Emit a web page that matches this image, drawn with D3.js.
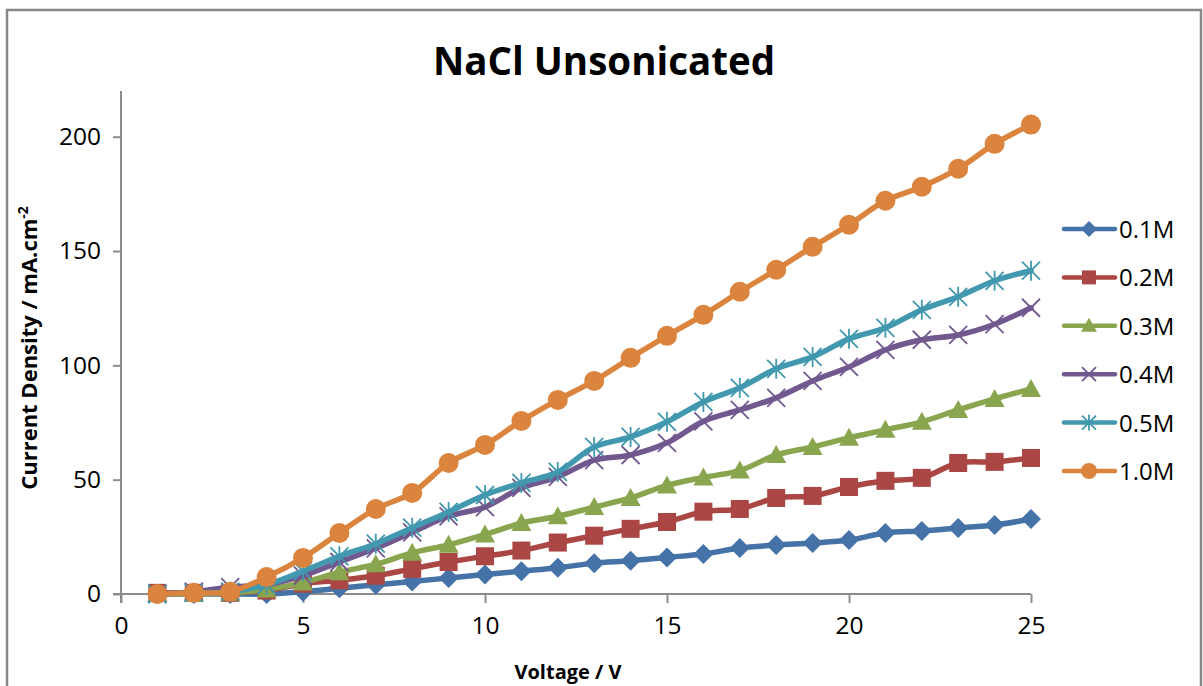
<!DOCTYPE html>
<html>
<head>
<meta charset="utf-8">
<script src="https://cdn.jsdelivr.net/npm/d3@7"></script>
<style>
  body { margin: 0; background: #fff; }
  text { font-family: "Open Sans", sans-serif; fill: #000; }
</style>
</head>
<body>
<div id="chart"></div>
<script>
// voltage (V)
const voltages = d3.range(1, 26);

// current density (mA.cm-2)
const s01 = [0, 0, 0, 0, 1, 2.5, 4, 5.5, 7, 8.5, 10, 11.5, 13.5, 14.5, 16, 17.5, 20.1, 21.4, 22.3, 23.6, 26.7, 27.6, 28.9, 30.2, 32.8];
const s02 = [0.5, 0.5, 0.5, 1.5, 4.5, 6, 8, 11, 14, 16.5, 19, 22.5, 25.5, 28.5, 31.5, 36, 37.2, 42, 42.9, 46.8, 49.5, 50.8, 57.3, 57.8, 59.5];
const s03 = [0, 0, 0.5, 2, 5, 9.5, 13, 18, 21.5, 26, 31, 34, 38, 42, 47.5, 51, 54, 60.8, 64.3, 68.3, 71.8, 75.3, 80.5, 85.3, 89.7];
const s04 = [0, 1, 3, 4, 8, 14, 20, 27, 34, 38, 46.4, 51.2, 58.6, 60.8, 66.1, 75.5, 80.5, 85.8, 93.2, 99.3, 106.8, 111.2, 113.3, 118, 125.2];
const s05 = [0, 0.5, 1, 4, 10, 16.5, 22, 29, 35.9, 43.3, 48.6, 53.4, 64.3, 68.7, 75.3, 84, 90.2, 98.5, 103.7, 111.6, 116.4, 124.3, 130, 137, 141.4];
const s10 = [0, 0.5, 1, 7.4, 15.8, 26.7, 37.2, 44.2, 57.3, 65.2, 75.7, 84.9, 93.2, 103.3, 112.9, 122.1, 132.2, 141.8, 151.9, 161.5, 172, 178.1, 186, 196.9, 205.3];

const seriesNames = ["0.1M", "0.2M", "0.3M", "0.4M", "0.5M", "1.0M"];
const seriesValues = [s01, s02, s03, s04, s05, s10];
const seriesColors = ["#4572A7", "#AA4643", "#89A54E", "#71588F", "#4198AF", "#DB843D"];
const seriesMarkers = ["diamond", "square", "triangle", "x", "star", "circle"];

const xTicks = [0, 5, 10, 15, 20, 25];
const yTicks = [0, 50, 100, 150, 200];

const totalWidth = 1203, totalHeight = 686;
const margin = { top: 91, right: 172, bottom: 92, left: 121 };
const width = totalWidth - margin.left - margin.right;
const height = totalHeight - margin.top - margin.bottom;

const svg = d3.select("#chart").append("svg")
    .attr("width", totalWidth)
    .attr("height", totalHeight);

// chart area border (open at the bottom, like the crop)
svg.append("path")
    .attr("d", `M7,${totalHeight + 5}V10H1201V${totalHeight + 5}`)
    .attr("fill", "none")
    .attr("stroke", "#888")
    .attr("stroke-width", 2.5);

const g = svg.append("g")
    .attr("transform", `translate(${margin.left},${margin.top})`);

const x = d3.scaleLinear().domain([0, 25]).range([0, width]);
const y = d3.scaleLinear().domain([0, 220]).range([height, 0]);

// axes
const xAxis = d3.axisBottom(x).tickValues(xTicks).tickSize(9).tickPadding(14);
const yAxis = d3.axisLeft(y).tickValues(yTicks).tickSize(8).tickPadding(12);

const gx = g.append("g")
    .attr("transform", `translate(0,${height})`)
    .call(xAxis);
const gy = g.append("g").call(yAxis);

[gx, gy].forEach(a => {
  a.select(".domain").attr("stroke", "#8c8c8c").attr("stroke-width", 2);
  a.selectAll(".tick line").attr("stroke", "#8c8c8c").attr("stroke-width", 2);
  a.selectAll(".tick text")
    .style("font-family", "'Open Sans', sans-serif")
    .style("font-size", "24.5px")
    .attr("fill", "#000");
});
gx.select(".domain").attr("d", `M-8,0H${width}`);
gy.select(".domain").attr("d", `M0,${height + 9}V0`);

// title
svg.append("text")
    .attr("x", 604)
    .attr("y", 75)
    .attr("text-anchor", "middle")
    .style("font-size", "38.5px")
    .style("font-weight", "bold")
    .text("NaCl Unsonicated");

// x label
svg.append("text")
    .attr("x", 568)
    .attr("y", 679)
    .attr("text-anchor", "middle")
    .style("font-size", "20px")
    .style("font-weight", "bold")
    .text("Voltage / V");

// y label
const yl = svg.append("text")
    .attr("transform", "translate(37,348) rotate(-90)")
    .attr("text-anchor", "middle")
    .style("font-size", "22px")
    .style("font-weight", "bold");
yl.append("tspan").text("Current Density / mA.cm");
yl.append("tspan").attr("dy", -9).style("font-size", "14px").text("-2");

// marker drawing
function drawMarker(sel, type, color, s) {
  const h = s / 2;
  if (type === "diamond") {
    sel.append("path").attr("d", `M0,${-h}L${h},0L0,${h}L${-h},0Z`).attr("fill", color);
  } else if (type === "square") {
    sel.append("rect").attr("x", -h + 1).attr("y", -h + 1).attr("width", s - 2).attr("height", s - 2).attr("fill", color);
  } else if (type === "triangle") {
    sel.append("path").attr("d", `M0,${-h}L${h},${h - 2}L${-h},${h - 2}Z`).attr("fill", color);
  } else if (type === "x") {
    sel.append("path").attr("d", `M${-h + 1},${-h + 1}L${h - 1},${h - 1}M${h - 1},${-h + 1}L${-h + 1},${h - 1}`)
      .attr("stroke", color).attr("stroke-width", 1.8);
  } else if (type === "star") {
    sel.append("path").attr("d", `M${-h + 1},${-h + 1}L${h - 1},${h - 1}M${h - 1},${-h + 1}L${-h + 1},${h - 1}M0,${-h}V${h}`)
      .attr("stroke", color).attr("stroke-width", 1.8);
  } else if (type === "circle") {
    sel.append("circle").attr("r", h).attr("fill", color);
  }
}

const line = d3.line()
    .x((d, i) => x(voltages[i]))
    .y(d => y(d))
    .curve(d3.curveCatmullRom.alpha(0.5));

seriesValues.forEach((vals, k) => {
  const sg = g.append("g");
  sg.append("path")
      .datum(vals)
      .attr("d", line)
      .attr("fill", "none")
      .attr("stroke", seriesColors[k])
      .attr("stroke-width", 5.5)
      .attr("stroke-linejoin", "round")
      .attr("stroke-linecap", "round");
  sg.selectAll(".pt")
      .data(vals)
    .enter().append("g")
      .attr("class", "pt")
      .attr("transform", (d, i) => `translate(${x(voltages[i])},${y(d)})`)
      .each(function() { drawMarker(d3.select(this), seriesMarkers[k], seriesColors[k], 20); });
});

// legend
const legend = svg.append("g").attr("transform", "translate(1062,229)");
seriesNames.forEach((name, k) => {
  const lg = legend.append("g").attr("transform", `translate(0,${k * 48.4})`);
  lg.append("line")
      .attr("x1", 2).attr("x2", 53)
      .attr("stroke", seriesColors[k])
      .attr("stroke-width", 4.5)
      .attr("stroke-linecap", "round");
  const m = lg.append("g").attr("transform", "translate(27,0)");
  drawMarker(m, seriesMarkers[k], seriesColors[k], 16);
  lg.append("text")
      .attr("x", 57)
      .attr("y", 9)
      .style("font-size", "24px")
      .text(name);
});
</script>
</body>
</html>
